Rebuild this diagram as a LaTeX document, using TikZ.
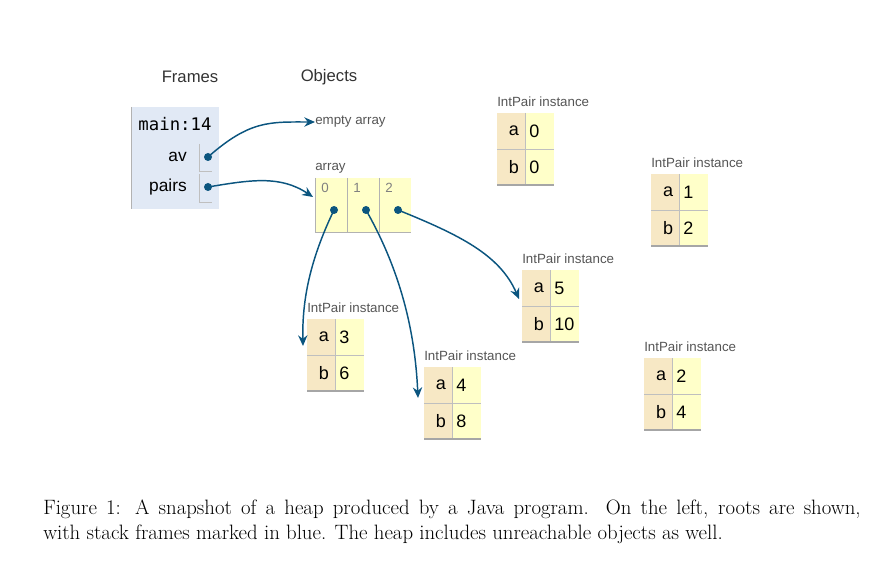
\documentclass[tikz,border=0pt]{standalone}
\usepackage{fontspec}
\setsansfont{Liberation Sans}
\setmonofont{DejaVu Sans Mono}
\usetikzlibrary{arrows.meta}
\definecolor{arr}{HTML}{0B557F}
\definecolor{keyc}{HTML}{F7E8C5}
\definecolor{valc}{HTML}{FFFFC9}
\definecolor{frm}{HTML}{E1E9F5}
\definecolor{lbl}{HTML}{555555}
\tikzset{
  ptr/.style={draw=arr,line width=1.1pt,-{Stealth[length=8pt,width=7pt]}},
  dotm/.style={circle,fill=arr,inner sep=0pt,minimum size=6pt},
  hdr/.style={font=\sffamily\fontsize{12.5}{14}\selectfont,text=black!80},
  small/.style={font=\sffamily\fontsize{10}{11}\selectfont,text=lbl,anchor=west,inner sep=0pt},
  cellt/.style={font=\sffamily\fontsize{13.5}{15}\selectfont,inner sep=0pt},
}
\newcommand{\intpair}[6]{% name, x, y(top of table), a, b, label y
  \node[small] (#1l) at (#2,#3-11) {IntPair instance};
  \fill[keyc] (#2,#3) rectangle ++(28,72);
  \fill[valc] (#2+28,#3) rectangle ++(29,72);
  \draw[gray!50,line width=0.7pt] (#2+28,#3) -- ++(0,72);
  \draw[gray!50,line width=0.7pt] (#2,#3+36) -- ++(57,0);
  \draw[gray!70,line width=0.8pt] (#2,#3+72) -- ++(57,0);
  \node[cellt] (#1ka) at (#2+17,#3+18) {a};
  \node[cellt,anchor=west] (#1va) at (#2+32,#3+18) {#4};
  \node[cellt] (#1kb) at (#2+17,#3+54) {b};
  \node[cellt,anchor=west] (#1vb) at (#2+32,#3+54) {#5};
  \coordinate (#1) at (#2,#3);
}
\begin{document}
\begin{tikzpicture}[x=0.75pt,y=-0.75pt]
\useasboundingbox (0,0) rectangle (893,563);
% headers
\node[hdr] (fr) at (190,77) {Frames};
\node[hdr] (ob) at (329,77) {Objects};
% frame
\fill[frm] (131,107) rectangle (219,209);
\draw[gray!60,line width=0.7pt] (131,107) -- (131,209);
\node[font=\ttfamily\fontsize{13}{14}\selectfont] (mn) at (175,124) {main:14};
\node[font=\sffamily\fontsize{13}{14}\selectfont,anchor=east,inner sep=0pt] (av) at (187,157) {av};
\node[font=\sffamily\fontsize{13}{14}\selectfont,anchor=east,inner sep=0pt] (pr) at (187,187) {pairs};
\draw[gray!50,line width=0.7pt] (199,144) -- (199,171) -- (212,171);
\draw[gray!50,line width=0.7pt] (199,174) -- (199,202) -- (212,202);
\node[dotm] (avd) at (208,157) {};
\node[dotm] (prd) at (208,187) {};
% empty array
\node[small] (ea) at (315,122) {empty array};
% array
\node[small] (arl) at (315,168) {array};
\fill[valc] (315,178) rectangle (411,232);
\draw[gray!60,line width=0.7pt] (315,178) -- (315,232) -- (411,232);
\draw[gray!60,line width=0.7pt] (347,178) -- (347,232) (379,178) -- (379,232);
\node[small,text=gray] (i0) at (321,188) {0};
\node[small,text=gray] (i1) at (353,188) {1};
\node[small,text=gray] (i2) at (385,188) {2};
\node[dotm] (d0) at (334,210) {};
\node[dotm] (d1) at (366,210) {};
\node[dotm] (d2) at (398,210) {};
\coordinate (arr) at (313,197);
% instances
\intpair{p00}{497}{113}{0}{0}{}
\intpair{p12}{651}{174}{1}{2}{}
\intpair{p510}{522}{270}{5}{10}{}
\intpair{p36}{307}{319}{3}{6}{}
\intpair{p48}{424}{367}{4}{8}{}
\intpair{p24}{644}{358}{2}{4}{}
\coordinate (t3) at (303,346);
\coordinate (t4) at (418,398);
\coordinate (t5) at (519,299);
% pointers
\draw[ptr] (avd.center) .. controls (250,120) and (270,122) .. (ea.west);
\draw[ptr] (prd.center) .. controls (250,180) and (280,175) .. (arr);
\draw[ptr] (d0.center) .. controls (310,260) and (302,300) .. (t3);
\draw[ptr] (d1.center) .. controls (400,270) and (415,330) .. (t4);
\draw[ptr] (d2.center) .. controls (460,235) and (500,255) .. (t5);
% caption
\node[anchor=north west,inner sep=0pt,text width=613pt,align=justify,
  font=\fontsize{15.6}{18.75}\selectfont\rmfamily] (cap) at (43,500)
  {Figure 1: A snapshot of a heap produced by a Java program. On the left, roots are shown,\linebreak with stack frames marked in blue. The heap includes unreachable objects as well.};
\end{tikzpicture}
\end{document}
